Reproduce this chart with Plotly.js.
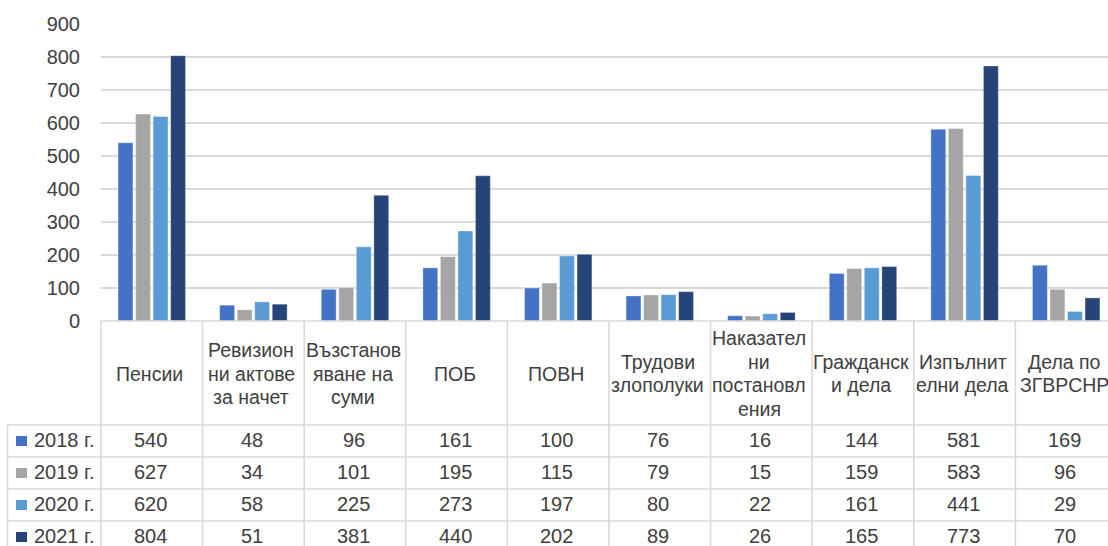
<!DOCTYPE html>
<html>
<head>
<meta charset="utf-8">
<script src="https://cdn.plot.ly/plotly-3.0.1.min.js"></script>
<style>
  html, body { margin: 0; padding: 0; background: #ffffff; overflow: hidden; }
  #chart { width: 1108px; height: 546px; }
</style>
</head>
<body>
<div id="chart"></div>
<script>
// ---- data ----
const categories = [
  "Пенсии",
  "Ревизион\nни актове\nза начет",
  "Възстанов\nяване на\nсуми",
  "ПОБ",
  "ПОВН",
  "Трудови\nзлополуки",
  "Наказател\nни\nпостановл\nения",
  "Гражданск\nи дела",
  "Изпълнит\nелни дела",
  "Дела по\nЗГВРСНР"
];
const seriesNames = ["2018 г.", "2019 г.", "2020 г.", "2021 г."];
const v2018 = [540, 48, 96, 161, 100, 76, 16, 144, 581, 169];
const v2019 = [627, 34, 101, 195, 115, 79, 15, 159, 583, 96];
const v2020 = [620, 58, 225, 273, 197, 80, 22, 161, 441, 29];
const v2021 = [804, 51, 381, 440, 202, 89, 26, 165, 773, 70];
const yTicks = [0, 100, 200, 300, 400, 500, 600, 700, 800, 900];

const seriesValues = [v2018, v2019, v2020, v2021];
const colors = ["#4472C4", "#A5A5A5", "#5B9BD5", "#264478"];

// ---- layout geometry ----
const W = 1108, H = 546;
const ML = 101, MT = 24, MB = 225, MR = 0;
const plotH = H - MT - MB, plotW = W - ML - MR;
const py = p => (H - MB - p) / plotH;      // pixel row -> paper y
const px = p => (p - ML) / plotW;          // pixel col -> paper x

const FONT = "Liberation Sans, Arial, sans-serif";
const TXT = "#404040";
const GRID = "#d9d9d9";

const xKeys = categories.map(c => c.replace(/\n/g, " "));

const traces = seriesValues.map((vals, i) => ({
  type: "bar",
  name: seriesNames[i],
  x: xKeys,
  y: vals,
  marker: { color: colors[i], line: { color: "rgba(255,255,255,0.45)", width: 0.8 } },
  hoverinfo: "x+y+name"
}));

const shapes = [];
const annotations = [];
const line = (x0, y0, x1, y1, xref, yref) => shapes.push({
  type: "line", xref, yref, x0, y0, x1, y1,
  line: { color: GRID, width: 1.6 }, layer: "above"
});

// table horizontal borders
const headerTop = 321, headerBottom = 425, rowH = 32;
const legLeft = 7.5;
line(0, py(headerTop), 1.02, py(headerTop), "paper", "paper");
for (let r = 0; r < 4; r++) {
  const yy = headerBottom + r * rowH;
  line(px(legLeft), py(yy), 1.02, py(yy), "paper", "paper");
}
// legend column left border
line(px(legLeft), py(headerBottom), px(legLeft), py(H + 5), "paper", "paper");
line(0, py(headerBottom), 0, py(H + 5), "paper", "paper");
line(0, py(headerTop), 0, py(headerBottom), "paper", "paper");
// category column borders
for (let k = 1; k <= categories.length; k++) {
  line(k - 0.5, py(headerTop), k - 0.5, py(H + 5), "x", "paper");
}

// header labels
const headerCenter = 373.5, lineGap = 23.6;
categories.forEach((c, i) => {
  const parts = c.split("\n");
  parts.forEach((t, j) => {
    annotations.push({
      xref: "x", yref: "paper", x: i, y: py(headerCenter + (j - (parts.length - 1) / 2) * lineGap),
      text: t, showarrow: false, xanchor: "center", yanchor: "middle", xshift: -2,
      font: { family: FONT, size: 19.5, color: TXT }
    });
  });
});

// value rows + legend keys
seriesValues.forEach((vals, r) => {
  const cy = headerBottom + r * rowH + rowH / 2 - 1;
  vals.forEach((v, i) => {
    annotations.push({
      xref: "x", yref: "paper", x: i, y: py(cy),
      text: String(v), showarrow: false, xanchor: "center", yanchor: "middle", xshift: -1.5,
      font: { family: FONT, size: 20, color: TXT }
    });
  });
  annotations.push({
    xref: "paper", yref: "paper", x: px(96), y: py(cy),
    text: seriesNames[r], showarrow: false, xanchor: "right", yanchor: "middle",
    font: { family: FONT, size: 20, color: TXT }
  });
  shapes.push({
    type: "rect", xref: "paper", yref: "paper",
    x0: px(16), x1: px(27), y0: py(cy + 1 + 5), y1: py(cy + 1 - 5),
    fillcolor: colors[r], line: { width: 0 }, layer: "above"
  });
});

const layout = {
  width: W, height: H,
  margin: { l: ML, r: MR, t: MT, b: MB, pad: 0 },
  paper_bgcolor: "#ffffff", plot_bgcolor: "#ffffff",
  showlegend: false,
  barmode: "group",
  bargap: 0.31,
  bargroupgap: 0.15,
  font: { family: FONT, size: 20, color: TXT },
  xaxis: {
    type: "category",
    range: [-0.5, -0.5 + plotW / 101.6],
    showticklabels: false, showgrid: false, zeroline: false, showline: false, ticks: ""
  },
  yaxis: {
    range: [0, 900],
    tickvals: yTicks,
    ticktext: yTicks.map(String),
    showgrid: true, gridcolor: GRID, gridwidth: 1.6,
    zeroline: false, showline: false, ticks: "",
    ticklabelstandoff: 20,
    tickfont: { family: FONT, size: 20, color: TXT }
  },
  shapes, annotations
};

Plotly.newPlot("chart", traces, layout, { displayModeBar: false, staticPlot: true });
</script>
</body>
</html>
